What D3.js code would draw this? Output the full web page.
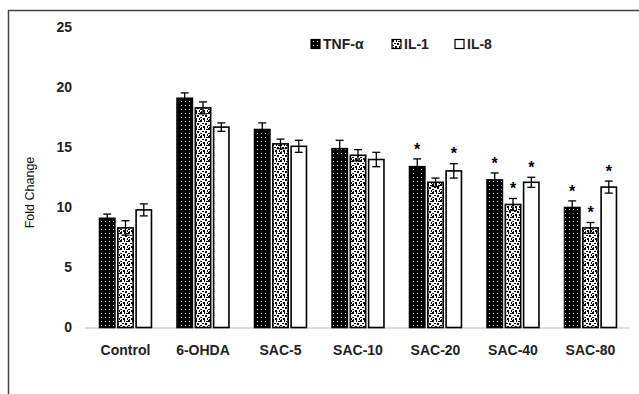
<!DOCTYPE html>
<html><head><meta charset="utf-8">
<script src="https://cdn.jsdelivr.net/npm/d3@7"></script>
<style>body{margin:0;background:#fff}svg{display:block}</style>
</head><body><svg id="c" width="639" height="394"></svg>
<script>
const categories = ["Control","6-OHDA","SAC-5","SAC-10","SAC-20","SAC-40","SAC-80"];
const seriesNames = ["TNF-α","IL-1","IL-8"];
const tnf = [9.1,19.1,16.5,14.9,13.4,12.3,10.0];
const il1 = [8.3,18.3,15.3,14.35,12.1,10.25,8.3];
const il8 = [9.8,16.7,15.1,14.0,13.05,12.1,11.7];
const tnfErr = [0.35,0.45,0.55,0.7,0.65,0.58,0.55];
const il1Err = [0.6,0.5,0.4,0.47,0.35,0.5,0.45];
const il8Err = [0.5,0.35,0.5,0.6,0.6,0.42,0.5];
const tnfSig = [0,0,0,0,1,1,1];
const il1Sig = [0,0,0,0,0,1,1];
const il8Sig = [0,0,0,0,1,1,1];
const yTicks = [0,5,10,15,20,25];

const values=[tnf,il1,il8], errs=[tnfErr,il1Err,il8Err], sigs=[tnfSig,il1Sig,il8Sig];
const FONT="Liberation Sans, Arial, sans-serif";
const svg=d3.select("#c");
const defs=svg.append("defs");
// TNF pattern: black with white dots
const p1=defs.append("pattern").attr("id","p0").attr("patternUnits","userSpaceOnUse").attr("width",4).attr("height",4);
p1.append("rect").attr("width",4).attr("height",4).attr("fill","#000");
p1.append("rect").attr("x",1).attr("y",1).attr("width",1).attr("height",1).attr("fill","#fff");
// IL-1 pattern: confetti
const p2=defs.append("pattern").attr("id","p1").attr("patternUnits","userSpaceOnUse").attr("width",8).attr("height",8);
p2.append("rect").attr("width",8).attr("height",8).attr("fill","#fff");
[[0,0,2,2],[4,0,1,2],[6,1,2,1],[2,3,2,1],[5,3,2,2],[0,5,2,1],[3,6,2,2],[7,6,1,2],[1,7,1,1]].forEach(d=>p2.append("rect").attr("x",d[0]).attr("y",d[1]).attr("width",d[2]).attr("height",d[3]).attr("fill","#000"));
const fills=["url(#p0)","url(#p1)","#fff"];

// frame
svg.append("path").attr("d","M8.5,394 V10.5 H639").attr("fill","none").attr("stroke","#444").attr("stroke-width",1.5);

const x=d3.scaleBand().domain(categories).range([86.75,629.25]).paddingInner(0.33).paddingOuter(0.165);
const y=d3.scaleLinear().domain([0,25]).range([327.5,27.5]);
const xs=d3.scaleBand().domain(seriesNames).range([0,x.bandwidth()]).paddingInner(0.16);

// y tick labels
svg.append("g").selectAll("text").data(yTicks).join("text")
 .attr("x",72).attr("y",d=>y(d)).attr("dy","0.35em").attr("text-anchor","end")
 .attr("font-family",FONT).attr("font-weight","bold").attr("font-size",14).attr("fill","#222").text(d=>d);

// baseline
svg.append("line").attr("x1",85).attr("x2",629).attr("y1",y(0)+0.5).attr("y2",y(0)+0.5).attr("stroke","#d0d0d0").attr("stroke-width",1.5);

// y axis title
svg.append("text").attr("transform",`translate(34,${y(12.5)+15}) rotate(-90)`).attr("text-anchor","middle")
 .attr("font-family",FONT).attr("font-size",12.5).attr("fill","#111").text("Fold Change");

// bars
seriesNames.forEach((s,si)=>{
  const g=svg.append("g");
  g.selectAll("rect").data(categories).join("rect")
   .attr("x",c=>x(c)+xs(s)).attr("width",xs.bandwidth())
   .attr("y",(c,i)=>y(values[si][i])).attr("height",(c,i)=>y(0)-y(values[si][i]))
   .attr("fill",fills[si]).attr("stroke","#000").attr("stroke-width",1.6);
  categories.forEach((c,i)=>{
    const cx=x(c)+xs(s)+xs.bandwidth()/2, v=values[si][i], e=errs[si][i];
    g.append("line").attr("x1",cx).attr("x2",cx).attr("y1",y(v-e)).attr("y2",y(v+e)).attr("stroke","#000").attr("stroke-width",1.3);
    [v-e,v+e].forEach(t=>g.append("line").attr("x1",cx-4).attr("x2",cx+4).attr("y1",y(t)).attr("y2",y(t)).attr("stroke","#000").attr("stroke-width",1.3));
    if(sigs[si][i]) g.append("text").attr("x",cx).attr("y",y(v+e)-4).attr("text-anchor","middle")
      .attr("font-family",FONT).attr("font-weight","bold").attr("font-size",16).attr("dy","0.6em").attr("transform",`translate(0,-10)`).text("*");
  });
});

// x labels
svg.append("g").selectAll("text").data(categories).join("text")
 .attr("x",c=>x(c)+x.bandwidth()/2).attr("y",355).attr("text-anchor","middle")
 .attr("font-family",FONT).attr("font-weight","bold").attr("font-size",14).attr("fill","#222").text(c=>c);

// legend
const legX=[311,392,455];
seriesNames.forEach((s,si)=>{
  svg.append("rect").attr("x",legX[si]).attr("y",39.5).attr("width",9).attr("height",9).attr("fill",fills[si]).attr("stroke","#000").attr("stroke-width",1.2);
  svg.append("text").attr("x",legX[si]+12).attr("y",49).attr("font-family",FONT).attr("font-weight","bold").attr("font-size",14).attr("fill","#222").text(s);
});
</script></body></html>
